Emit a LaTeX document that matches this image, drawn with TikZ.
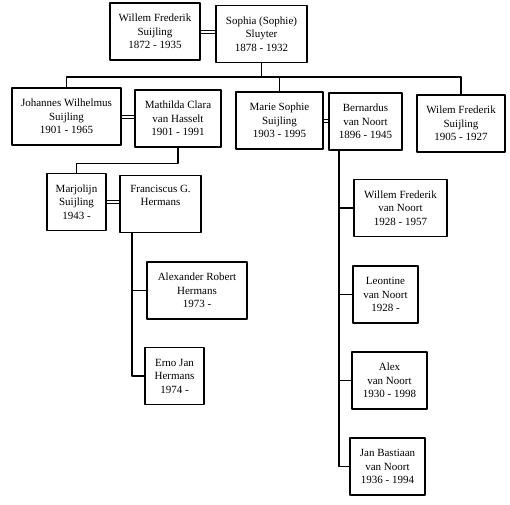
\documentclass[tikz,border=0pt]{standalone}
\usepackage{fontspec}
\setmainfont{Liberation Serif}
\begin{document}
\begin{tikzpicture}[x=1pt,y=-1pt,line join=round,
	persoon/.style={draw,line width=1.2pt,align=center,minimum height=57pt,inner sep=1pt,font=\fontsize{11}{13.5}\selectfont},
	lijn/.style={line width=1.1pt},
	huwelijk/.style={double=white,double distance=2pt,line width=1pt}]
	\useasboundingbox (0,0) rectangle (510,504);
	% personen
	\foreach \naam/\px/\py/\br/\tekst in {
		wf/155/31.5/90/{Willem Frederik\\Suijling\\1872 - 1935},
		so/261.5/34/91/{Sophia (Sophie)\\Sluyter\\1878 - 1932},
		jw/66.5/116.5/109/{Johannes Wilhelmus\\Suijling\\1901 - 1965},
		mc/178/118.5/86/{Mathilda Clara\\van Hasselt\\1901 - 1991},
		ms/279.5/120.5/87/{Marie Sophie\\Suijling\\1903 - 1995},
		bn/365.5/121.5/73/{Bernardus\\van Noort\\1896 - 1945},
		wv/461/123.5/88/{Wilem Frederik\\Suijling\\1905 - 1927},
		mj/76.5/202/59/{Marjolijn\\Suijling\\1943 -},
		fg/160.5/204/81/{Franciscus G.\\Hermans\\\strut},
		ar/197/290.5/100/{Alexander Robert\\Hermans\\1973 -},
		ej/174.5/376/59/{Erno Jan\\Hermans\\1974 -},
		wn/400.5/208/93/{Willem Frederik\\van Noort\\1928 - 1957},
		lv/385.5/294.5/65/{Leontine\\van Noort\\1928 -},
		av/389.5/380.5/75/{Alex\\van Noort\\1930 - 1998},
		jb/387.5/466.5/75/{Jan Bastiaan\\van Noort\\1936 - 1994}%
	}{\node[persoon,minimum width=\br pt] (\naam) at (\px,\py) {\tekst};}
	% huwelijken
	\draw[huwelijk] (wf.east) -- (wf.east -| so.west);
	\draw[huwelijk] (jw.east) -- (jw.east -| mc.west);
	\draw[huwelijk] (ms.east) -- (ms.east -| bn.west);
	\draw[huwelijk] (mj.east) -- (mj.east -| fg.west);
	% kinderen
	\coordinate (t1) at (261.5,77);
	\draw[lijn] (so.south) -- (so.south |- t1);
	\draw[lijn] (jw.north) |- (wv.north |- t1) -- (wv.north);
	\draw[lijn] (ms.north) -- (ms.north |- t1);
	\draw[lijn] (mc.south) -- ++(0,16) -| (mj.north);
	\coordinate (f1) at (132,232.5);
	\draw[lijn] (f1) |- (ej.west);
	\draw[lijn] (f1 |- ar.west) -- (ar.west);
	\coordinate (b1) at (339,150);
	\draw[lijn] (b1) |- (jb.west);
	\foreach \k in {wn,lv,av}{\draw[lijn] (b1 |- \k.west) -- (\k.west);}
\end{tikzpicture}
\end{document}
